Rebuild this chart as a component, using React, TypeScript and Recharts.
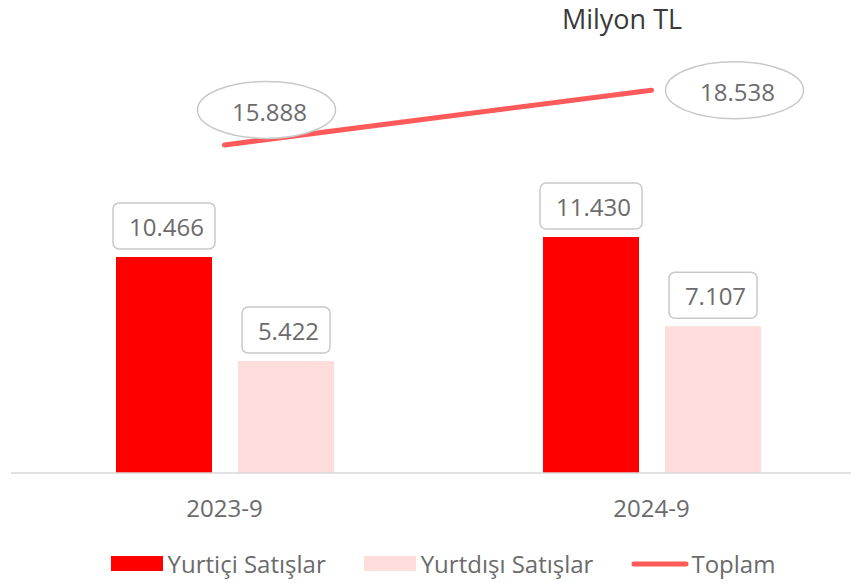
import React from 'react';
import { ComposedChart, Bar, Line, XAxis, YAxis, Legend, LabelList } from 'recharts';

const categories = ['2023-9', '2024-9'];
const yurticiSatislar = [10466, 11430];
const yurtdisiSatislar = [5422, 7107];
const toplam = [15888, 18538];

const data = categories.map((c, i) => ({
  name: c,
  yurtici: yurticiSatislar[i],
  yurtdisi: yurtdisiSatislar[i],
  toplam: toplam[i],
}));

const FONT = '"Open Sans", sans-serif';
const TEXT = '#6b6b6b';
const BOX = '#c9c9c9';
const RED = '#ff0000';
const PINK = '#ffdddd';
const LINE = '#ff5a5a';

const fmt = (v: number) => {
  const s = String(Math.round(v));
  return s.replace(/\B(?=(\d{3})+(?!\d))/g, '.');
};

const BarBoxLabel = (props: any) => {
  const { x, y, width, value } = props;
  const txt = fmt(Number(value));
  const w = txt.length * 14 + 18;
  const h = 46;
  const cx = Number(x) + Number(width) / 2;
  const bottom = Number(y) - 8;
  const top = bottom - h;
  return (
    <g>
      <rect x={cx - w / 2} y={top} width={w} height={h} rx={6} ry={6} fill="#fff" stroke={BOX} strokeWidth={1.5} />
      <text x={cx + 2.5} y={top + 33} textAnchor="middle" fontFamily={FONT} fontSize={24} fill={TEXT}>
        {txt}
      </text>
    </g>
  );
};

const ellipseOffsets = [
  { dx: 42, dy: -35 },
  { dx: 83, dy: 0 },
];

const LineEllipseLabel = (props: any) => {
  const { x, y, value, index } = props;
  const off = ellipseOffsets[index] || { dx: 0, dy: -35 };
  const cx = Number(x) + off.dx;
  const cy = Number(y) + off.dy;
  return (
    <g>
      <ellipse cx={cx} cy={cy} rx={69} ry={28.5} fill="#fff" stroke={BOX} strokeWidth={1.5} />
      <text x={cx + 3} y={cy + 11} textAnchor="middle" fontFamily={FONT} fontSize={24} fill={TEXT}>
        {fmt(Number(value))}
      </text>
    </g>
  );
};

const renderLegend = () => (
  <div
    style={{
      height: 35,
      display: 'flex',
      justifyContent: 'center',
      alignItems: 'center',
      gap: 38,
      paddingTop: 6,
      paddingLeft: 10,
      boxSizing: 'border-box',
      fontFamily: FONT,
      fontSize: 24,
      lineHeight: '24px',
      color: TEXT,
    }}
  >
    <div style={{ display: 'flex', alignItems: 'center' }}>
      <span style={{ display: 'inline-block', width: 52, height: 15, background: RED, marginRight: 5 }} />
      <span>Yurtiçi Satışlar</span>
    </div>
    <div style={{ display: 'flex', alignItems: 'center' }}>
      <span style={{ display: 'inline-block', width: 52, height: 15, background: PINK, marginRight: 5 }} />
      <span>Yurtdışı Satışlar</span>
    </div>
    <div style={{ display: 'flex', alignItems: 'center' }}>
      <svg width={58} height={10} style={{ marginRight: 2 }}>
        <line x1={3} y1={5} x2={55} y2={5} stroke={LINE} strokeWidth={5} strokeLinecap="round" />
      </svg>
      <span>Toplam</span>
    </div>
  </div>
);

export default function App() {
  return (
    <div
      style={{
        position: 'fixed',
        left: 0,
        top: 0,
        width: 851,
        height: 583,
        overflow: 'hidden',
        background: '#fff',
      }}
    >
      <div
        style={{
          position: 'absolute',
          left: 522,
          top: 0,
          width: 200,
          textAlign: 'center',
          fontFamily: FONT,
          fontSize: 27,
          lineHeight: 'normal',
          color: '#3a3a3a',
          zIndex: 2,
        }}
      >
        Milyon TL
      </div>
      <ComposedChart
        width={880}
        height={583}
        data={data}
        margin={{ top: 60, right: 15, left: 11, bottom: 5 }}
        barSize={96}
        barGap={26}
      >
        <XAxis
          dataKey="name"
          height={70}
          tickLine={false}
          axisLine={{ stroke: '#d9d9d9', strokeWidth: 1.5 }}
          tickMargin={21}
          tick={{ fontFamily: FONT, fontSize: 24, fill: TEXT }}
        />
        <YAxis hide domain={[0, 20000]} />
        <Legend verticalAlign="bottom" height={35} content={renderLegend} />
        <Bar dataKey="yurtici" name="Yurtiçi Satışlar" fill={RED} isAnimationActive={false}>
          <LabelList dataKey="yurtici" content={BarBoxLabel} />
        </Bar>
        <Bar dataKey="yurtdisi" name="Yurtdışı Satışlar" fill={PINK} isAnimationActive={false}>
          <LabelList dataKey="yurtdisi" content={BarBoxLabel} />
        </Bar>
        <Line
          dataKey="toplam"
          name="Toplam"
          stroke={LINE}
          strokeWidth={5}
          strokeLinecap="round"
          dot={false}
          activeDot={false}
          isAnimationActive={false}
        >
          <LabelList dataKey="toplam" content={LineEllipseLabel} />
        </Line>
      </ComposedChart>
    </div>
  );
}
